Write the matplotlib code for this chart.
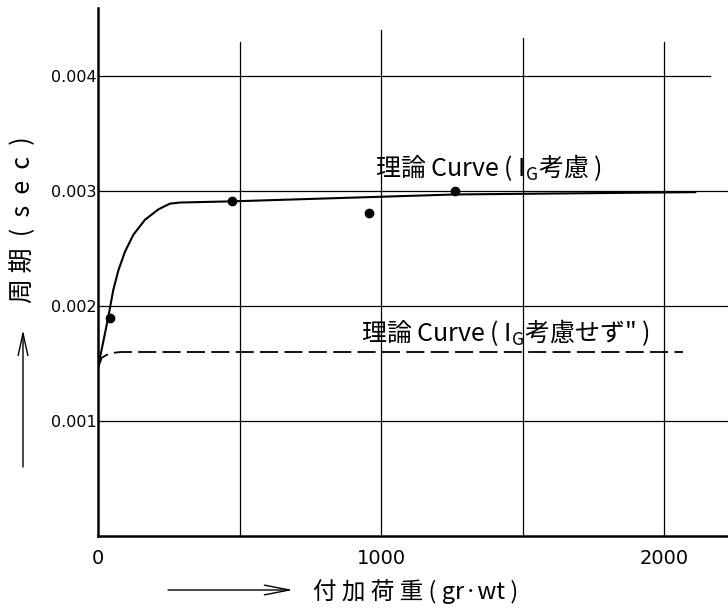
import matplotlib
matplotlib.use("Agg")
import matplotlib.pyplot as plt

plt.rcParams['font.family'] = ['Noto Sans CJK JP', 'DejaVu Sans']
plt.rcParams['mathtext.fontset'] = 'custom'
plt.rcParams['mathtext.rm'] = 'Noto Sans CJK JP'
plt.rcParams['mathtext.it'] = 'Noto Sans CJK JP'

# ---- data ----
solid_x = [0, 15, 27, 39, 54, 72, 95, 125, 166, 213, 254, 290, 473, 1261, 2110]
solid_y = [0.001475, 0.001646, 0.00179, 0.00194, 0.00214, 0.00231, 0.00247,
           0.00262, 0.00275, 0.00284, 0.00289, 0.0029, 0.00291, 0.00297, 0.00299]

dash_x = [0, 13, 42, 80, 2067]
dash_y = [0.00146, 0.00155, 0.00159, 0.0016, 0.0016]

dot_x = [42, 473, 958, 1261]
dot_y = [0.0019, 0.00291, 0.00281, 0.003]

yticks = [0.001, 0.002, 0.003, 0.004]
ytick_labels = ['0.001', '0.002', '0.003', '0.004']
xticks = [0, 1000, 2000]
xtick_labels = ['0', '1000', '2000']
xgrid = [500, 1000, 1500, 2000]

label_solid = r'理論 Curve ( $\mathrm{I_G}$考慮 )'
label_dash = r'理論 Curve ( $\mathrm{I_G}$考慮せず" )'
xlabel = '付 加 荷 重 ( gr·wt )'
ylabel = '周 期  (  s  e  c  )'

# ---- figure ----
fig = plt.figure(figsize=(7.28, 6.11), dpi=100)
ax = fig.add_axes([98/728, 75/611, 630/728, 536/611])
ax.set_xlim(0, 2226)
ax.set_ylim(0, 0.004661)

for s in ['top', 'right']:
    ax.spines[s].set_visible(False)
ax.spines['left'].set_linewidth(1.8)
ax.spines['left'].set_bounds(0, 0.00459)
ax.spines['bottom'].set_linewidth(1.8)

# grid lines (hand-drawn extents)
hgrid_xmax = [2226, 2226, 2226, 2163]
for yv, xm in zip(yticks, hgrid_xmax):
    ax.plot([0, xm], [yv, yv], color='black', lw=0.9, zorder=1)
vgrid_ymax = [0.0043, 0.0044, 0.00433, 0.0043]
for xv, ym in zip(xgrid, vgrid_ymax):
    ax.plot([xv, xv], [0, ym], color='black', lw=0.9, zorder=1)

ax.set_yticks(yticks)
ax.set_yticklabels(ytick_labels, fontsize=11.5, family='DejaVu Sans')
ax.set_xticks(xticks)
ax.set_xticklabels(xtick_labels, fontsize=14, family='DejaVu Sans')
ax.tick_params(axis='y', length=0, pad=1)
ax.tick_params(axis='x', length=0, pad=9)

# curves
ax.plot(solid_x, solid_y, color='black', lw=1.5, zorder=3)
ax.plot(dash_x, dash_y, color='black', lw=1.3, dashes=(10, 3.5), zorder=3)
ax.plot(dot_x, dot_y, 'o', color='black', ms=6, zorder=4)

ax.text(979, 0.0032, label_solid, fontsize=18, ha='left', va='center')
ax.text(929, 0.00177, label_dash, fontsize=18, ha='left', va='center')

# axis labels with arrows
ax.annotate('', xy=(293, 21), xytext=(168, 21), xycoords='figure pixels',
            textcoords='figure pixels',
            arrowprops=dict(arrowstyle='->, head_length=1.8, head_width=0.35',
                            lw=1.0, color='black', shrinkA=0, shrinkB=0))
fig.text(313/728, 19/611, xlabel, fontsize=17, ha='left', va='center')

ax.annotate('', xy=(23, 281), xytext=(23, 144), xycoords='figure pixels',
            textcoords='figure pixels',
            arrowprops=dict(arrowstyle='->, head_length=1.6, head_width=0.35',
                            lw=1.0, color='black', shrinkA=0, shrinkB=0))
fig.text(23/728, 391/611, ylabel, fontsize=18, rotation=90,
         ha='center', va='center')

fig.savefig('out.png', dpi=100)
